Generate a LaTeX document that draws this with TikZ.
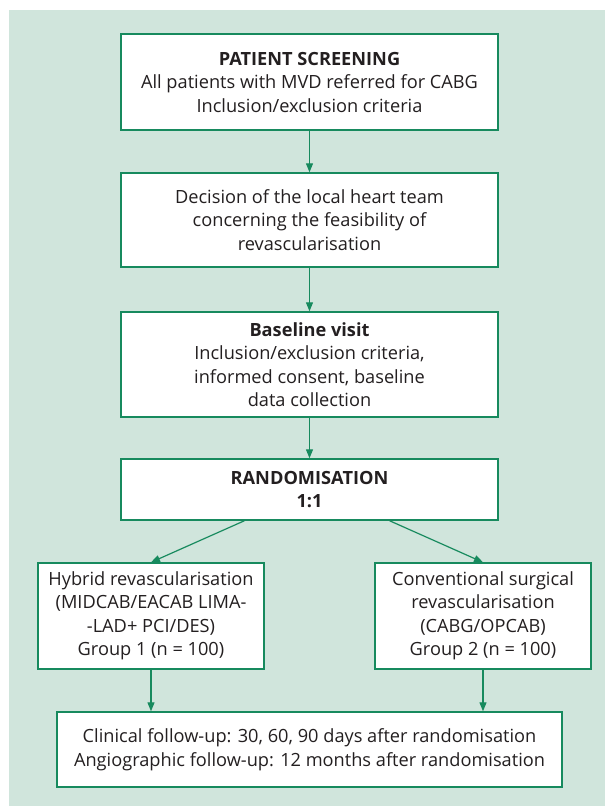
\documentclass[tikz,border=0pt]{standalone}
\usepackage{fontspec}
\setmainfont{Open Sans}
\usetikzlibrary{arrows.meta}
\definecolor{panelbg}{HTML}{D0E5DC}
\definecolor{trialgreen}{HTML}{178A5E}
\definecolor{inktext}{HTML}{231F20}
\tikzset{
  stagebox/.style={draw=trialgreen, line width=1.4pt, fill=white, align=center,
    text=inktext, inner sep=0pt, font=\fontsize{18.2}{23.5}\selectfont},
  flow/.style={draw=trialgreen, line width=1.2pt,
    -{Triangle[length=9pt,width=7pt]}}
}

\begin{document}
\begin{tikzpicture}[x=1pt,y=-1pt]
\useasboundingbox (0,0) rectangle (605,806);
\fill[panelbg] (9,10) rectangle (605,806);

\node[stagebox, minimum width=377pt, minimum height=96pt] (screen) at (309.5,82)
  {\textbf{PATIENT SCREENING}\\All patients with MVD referred for CABG\\Inclusion/exclusion criteria};
\node[stagebox, minimum width=377pt, minimum height=94pt] (team) at (309.5,220)
  {Decision of the local heart team\\concerning the feasibility of\\revascularisation};
\node[stagebox, minimum width=377pt, minimum height=105pt] (baseline) at (309.5,364.5)
  {\textbf{Baseline visit}\\Inclusion/exclusion criteria,\\informed consent, baseline\\data collection};
\node[stagebox, minimum width=377pt, minimum height=61pt] (random) at (309.5,489.5)
  {\textbf{RANDOMISATION}\\\textbf{1:1}};

\node[stagebox, minimum width=226pt, minimum height=106pt] (hybrid) at (151,616)
  {Hybrid revascularisation\\(MIDCAB/EACAB LIMA-\\-LAD+ PCI/DES)\\Group 1 (n = 100)};
\node[stagebox, minimum width=216pt, minimum height=106pt] (conv) at (483,616)
  {Conventional surgical\\revascularisation\\(CABG/OPCAB)\\Group 2 (n = 100)};

\node[stagebox, minimum width=505pt, minimum height=75pt] (followup) at (309.5,749.5)
  {Clinical follow-up: 30, 60, 90 days after randomisation\\Angiographic follow-up: 12 months after randomisation};

\draw[flow] (screen) -- (team);
\draw[flow] (team) -- (baseline);
\draw[flow] (baseline) -- (random);
\draw[flow] ([xshift=-65pt]random.south) -- (hybrid.north);
\draw[flow] ([xshift=80pt]random.south) -- (conv.north);
\draw[flow] (hybrid) -- (hybrid |- followup.north);
\draw[flow] (conv) -- (conv |- followup.north);
\end{tikzpicture}
\end{document}
